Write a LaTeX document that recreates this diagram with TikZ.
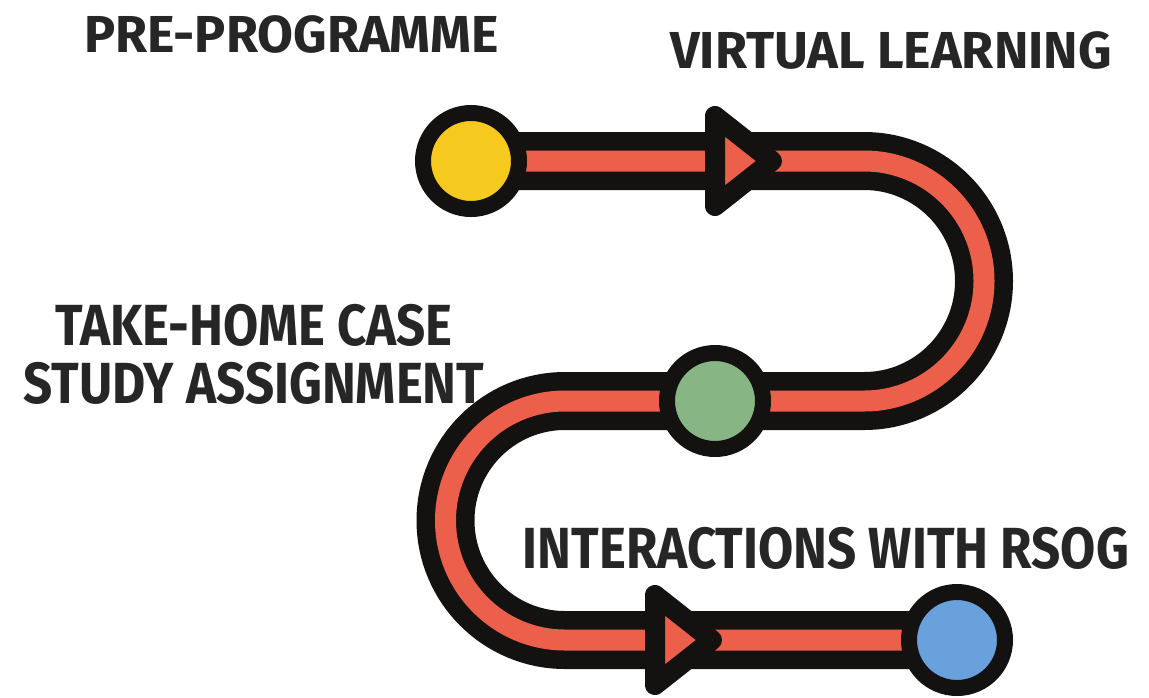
\documentclass[tikz,border=0pt]{standalone}
\usepackage{fontspec}
\setmainfont{Fira Sans}
\newfontfamily\narrowfont{Fira Sans}[FakeStretch=0.88]
\usepackage{tikz}
\usetikzlibrary{backgrounds}
\definecolor{roadred}{HTML}{EC5F4B}
\definecolor{roadblack}{HTML}{141111}
\definecolor{stopyellow}{HTML}{F5C91E}
\definecolor{stopgreen}{HTML}{88B584}
\definecolor{stopblue}{HTML}{68A1DC}
\definecolor{labelgray}{HTML}{262626}

\begin{document}
\begin{tikzpicture}[x=1pt,y=-1pt,
  stop/.style={circle,draw=roadblack,line width=16pt,minimum size=96pt,inner sep=0pt},
  road/.style={draw=roadblack,line width=18.5pt,double=roadred,double distance=21pt},
  roadarrow/.style={draw=roadblack,fill=roadred,line width=20pt,line join=round},
  stagetext/.style={text=labelgray,align=center,font=\fontsize{52}{58}\selectfont\bfseries},
  narrowtext/.style={text=labelgray,align=center,font=\narrowfont\fontsize{58}{58}\selectfont\bfseries}]
\useasboundingbox (0,0) rectangle (1149,697);
\node[stop,fill=stopyellow] (pre) at (471,161) {};
\node[stop,fill=stopgreen] (mid) at (715,401) {};
\node[stop,fill=stopblue] (post) at (957,640) {};
\begin{scope}[on background layer]
\draw[road] (pre.center) -- (864,161) arc[start angle=-90,end angle=90,radius=120] -- (mid.center);
\draw[road] (mid.center) -- (565,401) arc[start angle=270,end angle=90,radius=119.5] -- (post.center);
\end{scope}
\coordinate (virtual) at (715,161);
\coordinate (rsog) at (655,640);
\draw[roadarrow] (virtual) ++(0,-45) -- ++(57,45) -- ++(-57,45) -- cycle;
\draw[roadarrow] (rsog) ++(0,-45) -- ++(57,45) -- ++(-57,45) -- cycle;
\node[stagetext,anchor=base] (pretext) at (291.5,52) {PRE-PROGRAMME};
\node[stagetext,anchor=base] (virtualtext) at (891,68) {VIRTUAL LEARNING};
\node[narrowtext,anchor=base] (casetext) at (254,403) {TAKE-HOME CASE\\STUDY ASSIGNMENT};
\node[narrowtext,anchor=base] (rsogtext) at (826,568) {INTERACTIONS WITH RSOG};
\end{tikzpicture}
\end{document}
